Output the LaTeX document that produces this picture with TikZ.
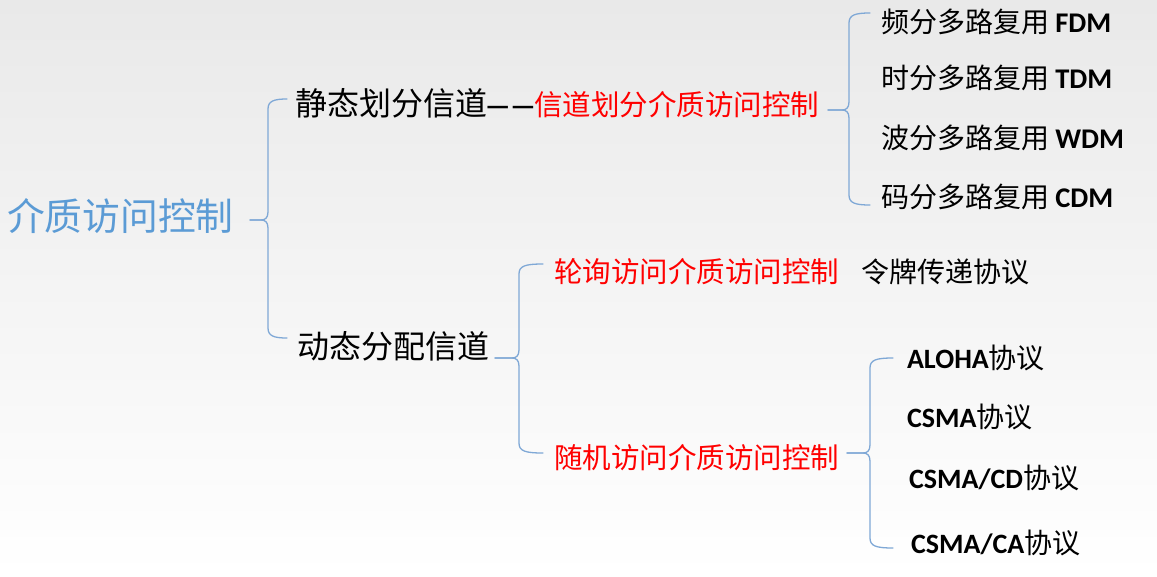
\documentclass[tikz,border=0pt]{standalone}
\usepackage{fontspec}
\setmainfont{Noto Sans CJK SC}
\newfontfamily\latfont{Carlito}
\definecolor{titleblue}{HTML}{5B9BD5}
\definecolor{bracecol}{HTML}{7FA8D6}
\definecolor{bgtop}{HTML}{E9E9E9}
\definecolor{bgmid}{HTML}{F6F6F6}
\newcommand{\mybrace}[6]{% tip x, vertical x, end x, top y, mid y, bottom y
  \draw[bracepath] (#3,#4) .. controls (#2+6,#4) and (#2,#4+2) .. (#2,#4+10) -- (#2,#5-8) .. controls (#2,#5-2) and (#2-3,#5) .. (#2-7,#5) -- (#1,#5);
  \draw[bracepath] (#1,#5) -- (#2-7,#5) .. controls (#2-3,#5) and (#2,#5+2) .. (#2,#5+8) -- (#2,#6-10) .. controls (#2,#6-2) and (#2+6,#6) .. (#3,#6);
}
\tikzset{
  base/.style={anchor=base west, inner sep=0pt, outer sep=0pt},
  titletxt/.style={base, font=\fontsize{37.8}{40}\selectfont, text=titleblue},
  lvlone/.style={base, font=\fontsize{32}{36}\selectfont, text=black},
  redtxt/.style={base, font=\fontsize{28.5}{32}\selectfont, text=red},
  leaf/.style={base, font=\fontsize{28}{32}\selectfont, text=black},
  bracepath/.style={draw=bracecol, line width=1.3pt, line cap=round},
}
\begin{document}
\begin{tikzpicture}[x=1pt, y=-1pt]
  \useasboundingbox (0,0) rectangle (1157,576);
  \shade[top color=bgtop, middle color=bgmid, bottom color=white] (0,0) rectangle (1157,576);

  % root
  \node[titletxt] (root) at (7,230) {介质访问控制};

  % level one
  \node[lvlone] (static) at (295,115) {静态划分信道};
  \node[base, font=\fontsize{28}{32}\selectfont\latfont\bfseries] (dash) at (485,115) {——};
  \node[redtxt] (chdiv) at (534,115) {信道划分介质访问控制};
  \node[lvlone] (dynamic) at (297,358) {动态分配信道};

  % multiplexing
  \node[leaf] (fdm) at (881,32) {频分多路复用 {\latfont\bfseries\fontsize{28.5}{32}\selectfont FDM}};
  \node[leaf] (tdm) at (881,88) {时分多路复用 {\latfont\bfseries\fontsize{28.5}{32}\selectfont TDM}};
  \node[leaf] (wdm) at (881,148) {波分多路复用 {\latfont\bfseries\fontsize{28.5}{32}\selectfont WDM}};
  \node[leaf] (cdm) at (881,207) {码分多路复用 {\latfont\bfseries\fontsize{28.5}{32}\selectfont CDM}};

  % dynamic
  \node[redtxt] (poll) at (554,282) {轮询访问介质访问控制};
  \node[leaf] (token) at (861,282) {令牌传递协议};
  \node[redtxt] (random) at (554,468) {随机访问介质访问控制};

  % random protocols
  \node[leaf] (aloha) at (907,368) {{\latfont\bfseries ALOHA}协议};
  \node[leaf] (csma) at (907,427) {{\latfont\bfseries CSMA}协议};
  \node[leaf] (csmacd) at (909,488) {{\latfont\bfseries CSMA/CD}协议};
  \node[leaf] (csmaca) at (911,553) {{\latfont\bfseries CSMA/CA}协议};

  % braces
  \mybrace{250}{268}{287}{99}{220}{338}
  \mybrace{828}{849}{870}{13}{110}{205}
  \mybrace{495}{519}{543}{264}{358}{453}
  \mybrace{847}{870}{893}{358}{453}{548}
\end{tikzpicture}
\end{document}
